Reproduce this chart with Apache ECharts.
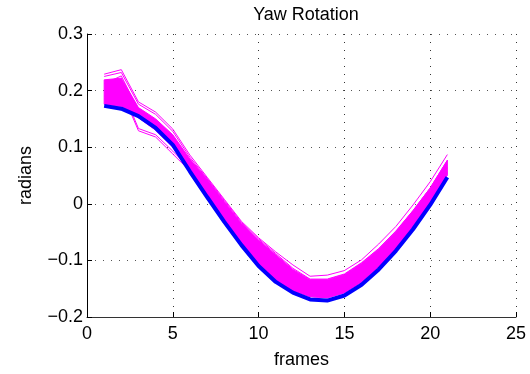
<!DOCTYPE html>
<html>
<head>
<meta charset="utf-8">
<script src="https://cdn.jsdelivr.net/npm/echarts@6/dist/echarts.min.js"></script>
<style>html,body{margin:0;padding:0;background:#fff;}#c{width:530px;height:374px;}</style>
</head>
<body>
<div id="c"></div>
<script>
const frames = [1,2,3,4,5,6,7,8,9,10,11,12,13,14,15,16,17,18,19,20,21];
const xTicks = [0,5,10,15,20,25];
const yTicks = [-0.2,-0.1,0,0.1,0.2,0.3];
// thick blue reference trajectory
const blueLine = [0.173,0.168,0.155,0.134,0.104,0.057,0.012,-0.032,-0.073,-0.110,-0.138,-0.157,-0.169,-0.171,-0.162,-0.143,-0.116,-0.083,-0.045,-0.002,0.047];
// dense magenta bundle: upper and lower edge
const bundleUpper = [0.219,0.222,0.170,0.150,0.122,0.079,0.044,0.004,-0.035,-0.064,-0.090,-0.116,-0.134,-0.134,-0.125,-0.105,-0.080,-0.049,-0.012,0.028,0.077];
const bundleLower = [0.176,0.172,0.152,0.130,0.100,0.058,0.014,-0.029,-0.070,-0.106,-0.134,-0.153,-0.164,-0.166,-0.157,-0.138,-0.111,-0.078,-0.041,0.002,0.051];
// individual magenta trajectories that stand out of the bundle
const pinkA = [0.229,0.237,0.180,0.162,0.132,0.086,0.047,0.008,-0.031,-0.060,-0.085,-0.108,-0.128,-0.126,-0.118,-0.099,-0.071,-0.040,-0.002,0.039,0.087];
const pinkB = [0.225,0.232,0.176,0.158,0.128,0.082,0.045,0.006,-0.033,-0.062,-0.088,-0.114,-0.133,-0.133,-0.124,-0.104,-0.079,-0.048,-0.012,0.028,0.077];
const pinkC = [0.185,0.200,0.129,0.118,0.088,0.058,0.014,-0.029,-0.070,-0.106,-0.134,-0.153,-0.164,-0.166,-0.157,-0.138,-0.111,-0.078,-0.041,0.002,0.051];
const pinkD = [0.190,0.205,0.133,0.122,0.093,0.062,0.018,-0.025,-0.066,-0.102,-0.130,-0.150,-0.161,-0.163,-0.154,-0.135,-0.108,-0.075,-0.038,0.006,0.055];
const pinkE = [0.212,0.226,0.165,0.140,0.112,0.070,0.030,-0.012,-0.052,-0.086,-0.114,-0.136,-0.150,-0.151,-0.142,-0.122,-0.095,-0.062,-0.026,0.015,0.064];

const MAG = '#ff00ff';
const pair = arr => frames.map((f,i)=>[f,arr[i]]);
const fmtY = v => { const r = Math.round(v*10)/10; if (r===0) return '0'; return (r<0?'\u2212':'') + Math.abs(r).toFixed(1); };
const FONT = 'Liberation Sans, Arial, sans-serif';

const chart = echarts.init(document.getElementById('c'), null, {renderer:'canvas'});
const pinkSeries = [pinkA,pinkB,pinkC,pinkD,pinkE].map(a=>({
  type:'line', data: pair(a), symbol:'none', lineStyle:{color:MAG,width:1}, z:3, silent:true, animation:false
}));
chart.setOption({
  animation:false,
  title:{text:'Yaw Rotation', left:301, top:1, textAlign:'center',
    textStyle:{fontFamily:FONT,fontSize:18,fontWeight:'normal',color:'#000'}},
  grid:{left:87,right:14,top:34,bottom:55},
  xAxis:{type:'value',min:0,max:25,interval:5,
    name:'frames',nameLocation:'middle',nameGap:34,
    nameTextStyle:{fontFamily:FONT,fontSize:18,color:'#000'},
    axisLine:{onZero:false,lineStyle:{color:'#333',width:1}},
    axisTick:{inside:true,length:5,lineStyle:{color:'#000'}},
    axisLabel:{fontFamily:FONT,fontSize:18,color:'#000',margin:8,formatter:v=>String(v)},
    splitLine:{show:true,lineStyle:{color:'#333',type:[1,7],width:1}}},
  yAxis:{type:'value',min:-0.2,max:0.3,interval:0.1,
    name:'radians',nameLocation:'middle',nameGap:52,nameRotate:90,
    nameTextStyle:{fontFamily:FONT,fontSize:18,color:'#000'},
    axisLine:{show:true,onZero:false,lineStyle:{color:'#000',width:1}},
    axisTick:{show:true,inside:true,length:5,lineStyle:{color:'#000'}},
    axisLabel:{fontFamily:FONT,fontSize:18,color:'#000',margin:4,formatter:fmtY},
    splitLine:{show:true,lineStyle:{color:'#555',type:[1,7],width:1}}},
  series:[
    {type:'custom', silent:true, z:2, animation:false,
     data: pair(bundleUpper),
     renderItem:(params, api)=>{
       if (params.dataIndex!==0) return null;
       const pts = [];
       frames.forEach((f,i)=>pts.push(api.coord([f,bundleUpper[i]])));
       for (let i=frames.length-1;i>=0;i--) pts.push(api.coord([frames[i],bundleLower[i]]));
       return {type:'polygon', shape:{points:pts}, style:{fill:MAG, stroke:MAG, lineWidth:1}};
     }},
    ...pinkSeries,
    {type:'line', data: pair(blueLine), symbol:'none', lineStyle:{color:'#0000ff',width:4}, z:5, silent:true, animation:false}
  ]
});
</script>
</body>
</html>
